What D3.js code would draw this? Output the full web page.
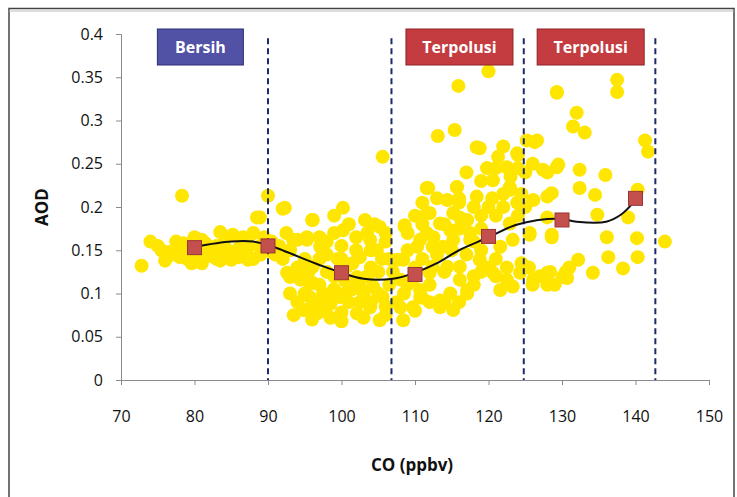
<!DOCTYPE html>
<html><head><meta charset="utf-8">
<script src="https://cdn.jsdelivr.net/npm/d3@7/dist/d3.min.js"></script>
<style>body{margin:0;background:#fff}svg{display:block}</style>
</head><body>
<svg id="c" width="737" height="497"></svg>
<script>
// ---- data ----
const xTicks = [70,80,90,100,110,120,130,140,150];
const yTicks = [0,0.05,0.1,0.15,0.2,0.25,0.3,0.35,0.4];
const scatterCO = [72.8,74,75.5,77,78.5,78.3,79,80.5,81,82,83,84,85,83.5,85.2,86.6,88.5,88,82.4,85,87.3,79.6,82.3,90,88.9,86,87,89,89.5,90.5,76,80,84,88,91,
92,96,94,95.3,93,95.7,94.8,95.3,96.7,105.6,92.3,100.2,96.1,100.2,103.2,93.4,95.3,97.1,92.6,96.1,94.4,96.1,94.8,97.5,99.8,102.1,103.9,105.2,102.5,103.9,104.8,105.2,102.5,104.3,105.6,100.7,102.1,98,95.7,
108.6,111.6,115.7,118.4,114.4,111.6,113.4,116.1,117.5,110.7,112.4,115.2,109.7,112,114.4,116.1,117.1,110.7,113.4,115.2,108,108.4,107.6,108,
120,115.9,129.3,113.1,115.4,118.8,121.3,125.2,126.6,119.8,122.5,123.9,111.8,115.7,118.4,120.6,122.9,123.9,127.4,129.3,128,108.6,112,115.2,117.1,122.9,111.6,114.8,110.3,113.8,117.5,121.6,123.3,125.6,128,128.6,108.4,112.4,116.1,118.8,120.6,122.5,124.3,126.1,128,130.1,110.7,114.8,117.1,109.7,113.4,121.6,123.3,
137.5,137.5,129.3,132,131.5,133.1,126.3,141.3,141.7,129.5,128,132.4,135.9,132.4,134.5,128.6,126.1,134.8,139,140.3,125.6,128.6,136.1,140.2,144,132.2,136.3,140.3,138.3,134.2,128.4,130.7,126.1,128,
93.5,96,98.5,100,101,99,97,100.5,103,104,106,106.5,105,101.5,99.5,98,100,102,103.5,106,106.5,104,98,95,93,91.5,92,97,99,
111,113,115,117,119,121,119,121,120,118,116,122,124,124.5,123,121,125,126,124,114,118,110,109,108.5,112,
75,76.5,78,79.5,81.5,83,84.5,86,87.5,89,90.5,77.5,81,86.5,83.5,78,
93,94,95,96.5,97.5,98.5,99,100.5,101.5,102.5,103.5,105,105.5,104,102,100,97,95.5,94,98,101,104.5,97.5,100,103,106,107.5,107,106,99,92.5,
109,110,111,112,114,116,118,119,120,121,122.5,124.5,125.5,111,112.5,114,116,118,119,120.5,122,123,125,124,122,117,119,116,113,110,109,111,
127,129,130.5,126,131];
const scatterAOD = [0.132,0.16,0.15,0.145,0.158,0.213,0.14,0.145,0.135,0.15,0.14,0.142,0.148,0.171,0.168,0.165,0.188,0.17,0.143,0.139,0.139,0.135,0.153,0.213,0.188,0.152,0.15,0.145,0.165,0.16,0.138,0.165,0.158,0.14,0.145,
0.198,0.185,0.162,0.165,0.119,0.112,0.131,0.081,0.077,0.258,0.199,0.199,0.185,0.173,0.185,0.162,0.162,0.154,0.124,0.131,0.116,0.112,0.081,0.084,0.096,0.077,0.084,0.069,0.142,0.162,0.15,0.177,0.108,0.108,0.096,0.131,0.119,0.096,0.096,
0.177,0.222,0.223,0.269,0.208,0.193,0.181,0.188,0.17,0.162,0.154,0.162,0.116,0.124,0.131,0.116,0.1,0.096,0.092,0.081,0.084,0.069,0.139,0.116,
0.357,0.34,0.332,0.282,0.289,0.268,0.258,0.277,0.277,0.245,0.246,0.262,0.222,0.223,0.212,0.231,0.223,0.205,0.243,0.246,0.212,0.179,0.193,0.193,0.185,0.181,0.17,0.173,0.154,0.154,0.162,0.154,0.162,0.17,0.188,0.165,0.139,0.131,0.131,0.139,0.124,0.116,0.124,0.116,0.124,0.119,0.104,0.1,0.104,0.084,0.084,0.104,0.108,
0.347,0.333,0.333,0.309,0.293,0.286,0.275,0.277,0.264,0.249,0.24,0.243,0.237,0.222,0.214,0.216,0.208,0.191,0.188,0.22,0.168,0.168,0.165,0.164,0.16,0.139,0.142,0.142,0.129,0.124,0.125,0.118,0.116,0.11,
0.075,0.07,0.072,0.078,0.09,0.105,0.11,0.115,0.1,0.09,0.085,0.11,0.125,0.135,0.14,0.145,0.155,0.165,0.17,0.16,0.14,0.13,0.125,0.14,0.15,0.155,0.14,0.165,0.17,
0.14,0.145,0.15,0.145,0.15,0.14,0.175,0.19,0.2,0.2,0.205,0.2,0.19,0.215,0.235,0.245,0.24,0.25,0.26,0.125,0.12,0.13,0.15,0.1,0.11,
0.155,0.148,0.152,0.148,0.158,0.155,0.15,0.142,0.155,0.155,0.148,0.16,0.162,0.16,0.138,0.142,
0.1,0.09,0.1,0.09,0.1,0.088,0.12,0.1,0.105,0.09,0.12,0.1,0.14,0.15,0.15,0.14,0.14,0.125,0.13,0.16,0.18,0.18,0.08,0.068,0.072,0.075,0.09,0.125,0.17,0.19,0.17,
0.11,0.08,0.095,0.09,0.09,0.09,0.11,0.125,0.13,0.12,0.13,0.135,0.13,0.18,0.165,0.18,0.175,0.16,0.19,0.21,0.215,0.22,0.2,0.245,0.27,0.24,0.23,0.21,0.21,0.19,0.17,0.205,
0.12,0.11,0.125,0.11,0.13];
const meanCO = [80,90,100,110,120,130,140];
const meanAOD = [0.153,0.155,0.124,0.122,0.166,0.185,0.21];
const fitCO = [80,85,88,90,97,100,103,107,110,113,116,120,123,125,128,130,132,136,138,140];
const fitAOD = [0.154,0.16,0.16,0.156,0.133,0.124,0.117,0.117,0.124,0.135,0.15,0.165,0.177,0.182,0.186,0.186,0.183,0.183,0.191,0.208];
const boundaries = [90,106.8,124.8,142.7];
const zoneLabels = ["Bersih","Terpolusi","Terpolusi"];
const zoneCenters = [80.8,116.05,133.9];   // CO at box centre
const zoneKinds = ["clean","polluted","polluted"];

// ---- drawing ----
const svg = d3.select("#c");
const x = d3.scaleLinear().domain([70,150]).range([121,709]);
const y = d3.scaleLinear().domain([0,0.4]).range([380,34]);
const font = "'Open Sans', 'DejaVu Sans', sans-serif";

// frame
svg.append("rect").attr("x",9).attr("y",8.5).attr("width",725).attr("height",500)
  .attr("fill","#fff").attr("stroke","#444").attr("stroke-width",1.5);
svg.append("line").attr("x1",9).attr("x2",734).attr("y1",11).attr("y2",11).attr("stroke","#bbb").attr("stroke-width",1);

// axes
const yAxis = d3.axisLeft(y).tickValues(yTicks).tickSize(5).tickFormat(d=>String(+d.toFixed(2)));
const gy = svg.append("g").attr("transform",`translate(${x(70)},0)`).call(yAxis);
gy.select(".domain").attr("stroke","#8a8a8a");
gy.selectAll(".tick line").attr("stroke","#8a8a8a");
gy.selectAll("text").attr("font-family",font).attr("font-size",16).attr("fill","#111").attr("x",-18);

const xAxis = d3.axisBottom(x).tickValues(xTicks).tickSize(5);
const gx = svg.append("g").attr("transform",`translate(0,${y(0)})`).call(xAxis);
gx.select(".domain").attr("stroke","#8a8a8a");
gx.selectAll(".tick line").attr("stroke","#8a8a8a");
gx.selectAll("text").attr("font-family",font).attr("font-size",16).attr("fill","#111").attr("y",31);

// scatter
const pts = scatterCO.map((c,i)=>({c,a:scatterAOD[i]}));
svg.append("g").selectAll("circle").data(pts).join("circle")
  .attr("cx",d=>x(d.c)).attr("cy",d=>y(d.a)).attr("r",7).attr("fill","#ffe600");

// boundaries
svg.append("g").selectAll("line").data(boundaries).join("line")
  .attr("x1",d=>x(d)).attr("x2",d=>x(d)).attr("y1",y(0.395)).attr("y2",y(0))
  .attr("stroke","#1c2a6b").attr("stroke-width",2).attr("stroke-dasharray","6,4");

// fit curve
const fit = fitCO.map((c,i)=>[x(c),y(fitAOD[i])]);
svg.append("path").attr("d",d3.line().curve(d3.curveCatmullRom)(fit))
  .attr("fill","none").attr("stroke","#111").attr("stroke-width",2);

// means
svg.append("g").selectAll("rect").data(meanCO.map((c,i)=>({c,a:meanAOD[i]}))).join("rect")
  .attr("x",d=>x(d.c)-7).attr("y",d=>y(d.a)-7).attr("width",14).attr("height",14)
  .attr("fill","#c4504e").attr("stroke","#9a3535").attr("stroke-width",1);

// zone labels
const zg = svg.append("g").selectAll("g").data(zoneLabels.map((t,i)=>({t,c:zoneCenters[i],k:zoneKinds[i]}))).join("g");
zg.append("rect").attr("x",d=>x(d.c)-(d.k==="clean"?43:53.5)).attr("y",29)
  .attr("width",d=>d.k==="clean"?86:107).attr("height",36)
  .attr("fill",d=>d.k==="clean"?"#5151a6":"#c43c40")
  .attr("stroke",d=>d.k==="clean"?"#2e2e78":"#8e2226").attr("stroke-width",1);
zg.append("text").attr("x",d=>x(d.c)).attr("y",53).attr("text-anchor","middle")
  .attr("font-family",font).attr("font-weight","bold").attr("font-size",16).attr("fill","#fff")
  .text(d=>d.t);

// axis titles
svg.append("text").attr("transform","translate(48,207) rotate(-90)").attr("text-anchor","middle")
  .attr("font-family",font).attr("font-weight","bold").attr("font-size",17).attr("fill","#111").text("AOD");
svg.append("text").attr("x",412).attr("y",471).attr("text-anchor","middle")
  .attr("font-family",font).attr("font-weight","bold").attr("font-size",17).attr("fill","#111").text("CO (ppbv)");
</script>
</body></html>
